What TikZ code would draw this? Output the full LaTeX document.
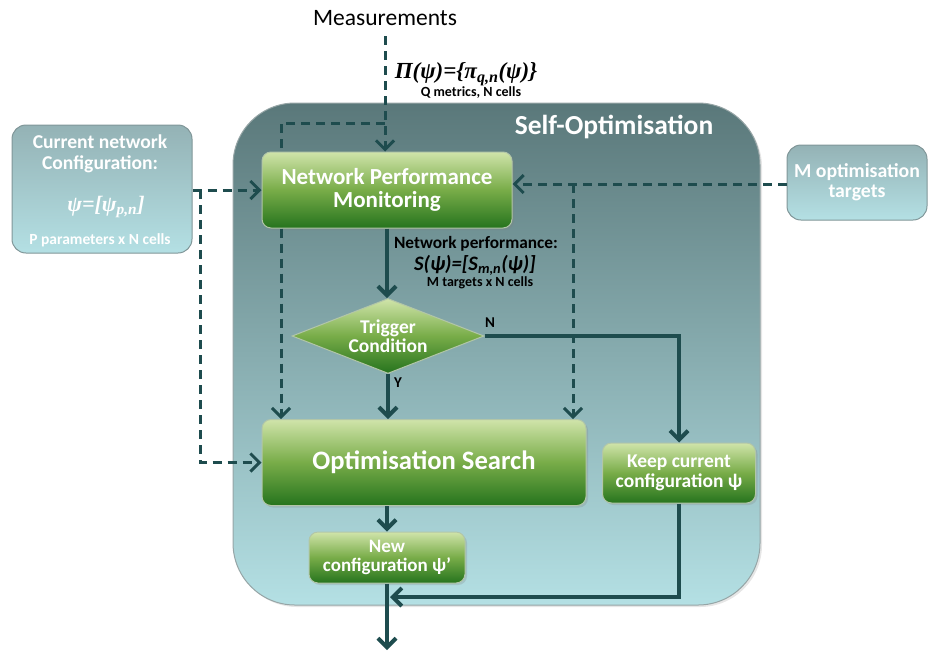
\documentclass[tikz,border=0pt]{standalone}
\usepackage{fontspec}
\setmainfont{Carlito}
\newfontfamily\frm{Liberation Serif}
\usetikzlibrary{shapes.geometric,arrows.meta,shadows}

\definecolor{ink}{RGB}{30,76,78}
\definecolor{gtop}{RGB}{208,228,170}
\definecolor{gmid}{RGB}{120,172,72}
\definecolor{gbot}{RGB}{38,116,30}
\definecolor{gedge}{RGB}{178,198,168}
\definecolor{btop}{RGB}{90,120,122}
\definecolor{bbot}{RGB}{180,224,228}
\definecolor{bedge}{RGB}{150,165,166}
\definecolor{stop}{RGB}{148,178,181}
\definecolor{sbot}{RGB}{180,224,228}
\definecolor{sedge}{RGB}{128,150,152}

\newcommand{\fs}[1]{\fontsize{#1}{#1}\selectfont}

\begin{document}
\begin{tikzpicture}[x=1pt,y=-1pt,
  greenbox/.style={rectangle, rounded corners=9pt, draw=gedge, line width=1pt,
    top color=gtop, bottom color=gbot, middle color=gmid, text=white,
    font=\bfseries, align=center, inner sep=0pt,
    drop shadow={opacity=0.25, shadow xshift=2pt, shadow yshift=-2pt}},
  sidebox/.style={rectangle, rounded corners=14pt, draw=sedge, line width=1pt,
    top color=stop, bottom color=sbot, text=white, font=\bfseries,
    align=center, inner sep=0pt},
  flow/.style={draw=ink, line width=4pt, -{Straight Barb[length=9pt,width=18pt]}},
  dline/.style={draw=ink, line width=3pt, dash pattern=on 9pt off 6pt},
  darrow/.style={dline, -{Straight Barb[length=9pt,width=18pt]}},
  lbl/.style={text=black, font=\bfseries, inner sep=0pt}
]
\useasboundingbox (0,0) rectangle (933,654);

% Self-Optimisation container
\node[rectangle, rounded corners=62pt, draw=bedge, line width=1pt,
  top color=btop, bottom color=bbot, minimum width=527pt, minimum height=502pt,
  inner sep=0pt, drop shadow={opacity=0.2, shadow xshift=2pt, shadow yshift=-2pt}]
  (so) at (496.5,354) {};
\node[text=white, font=\bfseries\fs{27.5}, inner sep=0pt] (sotitle) at (614,127) {Self-Optimisation};

% side inputs
\node[sidebox, minimum width=180pt, minimum height=128pt] (cfg) at (102,189) {};
\node[text=white, font=\bfseries\fs{19.6}, align=center, inner sep=0pt] (cfgt) at (100,154)
  {\fs{19.6}Current network\\[1pt]Configuration:};
\node[text=white, inner sep=0pt] (cfgf) at (106,207)
  {\frm\bfseries\itshape\fs{22}ψ=[ψ\textsubscript{p,n}]};
\node[text=white, font=\bfseries\fs{15.5}, inner sep=0pt] (cfgs) at (100,240) {P parameters x N cells};

\node[sidebox, minimum width=140pt, minimum height=75pt, font=\bfseries\fs{19.8}]
  (mtar) at (857,182.5) {M optimisation\\targets};

% process blocks
\node[greenbox, minimum width=250pt, minimum height=76pt, font=\bfseries\fs{23}]
  (npm) at (387,190) {Network Performance\\Monitoring};
\node[diamond, aspect=2.56, minimum width=192pt, minimum height=75pt, inner sep=0pt,
  draw=gedge, line width=1pt, top color=gtop, bottom color=gbot, middle color=gmid,
  text=white, font=\bfseries\fs{19.5}, align=center]
  (trig) at (388,336) {Trigger\\Condition};
\node[greenbox, minimum width=324pt, minimum height=86pt, font=\bfseries\fs{26.6}]
  (os) at (424,462.5) {Optimisation Search};
\node[greenbox, minimum width=153pt, minimum height=60pt, font=\bfseries\fs{19.5}]
  (keep) at (679,473) {Keep current\\configuration ψ};
\node[greenbox, minimum width=156pt, minimum height=51pt, font=\bfseries\fs{19}]
  (newc) at (387,557.5) {New\\configuration ψ’};

% labels
\node[font=\fs{23.5}, inner sep=0pt] (meas) at (385,18) {Measurements};
\node[inner sep=0pt] (pif) at (466,74)
  {\frm\bfseries\itshape\fs{23}Π(ψ)=\{π\textsubscript{q,n}(ψ)\}};
\node[lbl, font=\bfseries\fs{14}] (qm) at (471,93) {Q metrics, N cells};
\node[lbl, font=\bfseries\fs{17.3}] (np) at (476,244) {Network performance:};
\node[lbl, font=\bfseries\itshape\fs{20.5}] (sf) at (475,265) {S(ψ)=[S\textsubscript{m,n}(ψ)]};
\node[lbl, font=\bfseries\fs{14}] (mt) at (480,283) {M targets x N cells};
\node[lbl, font=\bfseries\fs{15}] (nlab) at (490,323) {N};
\node[lbl, font=\bfseries\fs{15}] (ylab) at (398,383) {Y};

% free ends and junctions
\coordinate (mtop) at (385,36);
\coordinate (jt) at (385,123);
\coordinate (xl) at (281,0);
\coordinate (bl) at (200,190);
\coordinate (jr) at (573,184);
\coordinate (jn) at (390,597);
\coordinate (out) at (387,650);

% measurement inputs
\draw[darrow] (mtop) -- (mtop |- npm.north);
\draw[dline] (jt) -| (xl |- npm.north);
\draw[darrow] (xl |- npm.south) -- (xl |- os.north);

% configuration inputs
\draw[darrow] (cfg.east |- bl) -- (npm.west |- bl);
\draw[darrow] (bl) |- (os.west);

% optimisation targets
\draw[darrow] (mtar.west |- jr) -- (npm.east |- jr);
\draw[darrow] (jr) -- (jr |- os.north);

% decision flow
\draw[flow] (npm.south) -- (npm.south |- trig.north);
\draw[flow] (trig.south) -- (trig.south |- os.north);
\draw[flow] (trig.east) -| (keep.north);
\draw[flow] (newc.north |- os.south) -- (newc.north);
\draw[flow] (newc.south) -- (out);
\draw[flow] (keep.south) |- (jn);
\end{tikzpicture}
\end{document}
